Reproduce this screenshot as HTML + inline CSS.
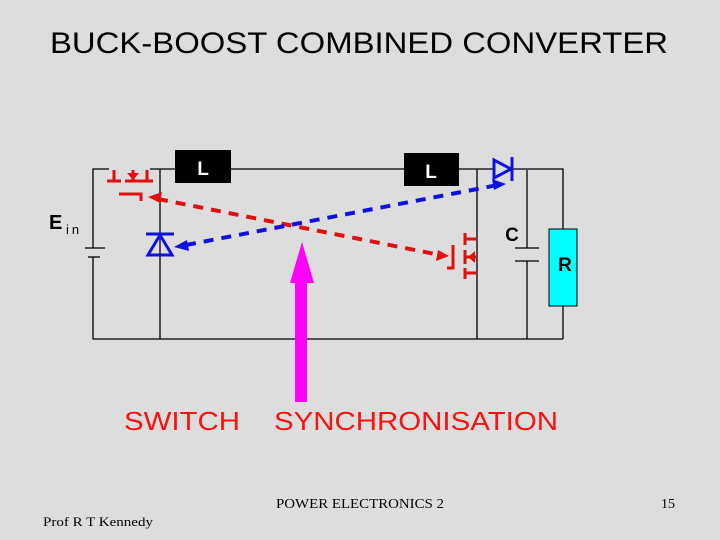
<!DOCTYPE html>
<html><head><meta charset="utf-8"><style>
html,body{margin:0;padding:0;background:#dddddd;width:720px;height:540px;overflow:hidden}
</style></head><body>
<svg width="720" height="540" xmlns="http://www.w3.org/2000/svg" style="position:absolute;left:0;top:0">
<rect width="720" height="540" fill="#dddddd"/>
<text x="50" y="53" textLength="618" lengthAdjust="spacingAndGlyphs" font-family="Liberation Sans, sans-serif" font-size="30" fill="#000">BUCK-BOOST COMBINED  CONVERTER</text>
<g stroke="#000" stroke-width="1.3" fill="none">
<polyline points="93,248 93,169 109,169"/>
<line x1="150" y1="169" x2="404" y2="169"/>
<line x1="459" y1="169" x2="494" y2="169"/>
<polyline points="511,169 563,169 563,229"/>
<line x1="563" y1="306" x2="563" y2="339"/>
<polyline points="93,257 93,339 563,339"/>
<line x1="160" y1="169" x2="160" y2="339"/>
<line x1="477" y1="169" x2="477" y2="339"/>
<line x1="527" y1="170" x2="527" y2="248"/>
<line x1="527" y1="261" x2="527" y2="339"/>
<line x1="85" y1="248" x2="105" y2="248"/>
<line x1="88" y1="257" x2="100" y2="257"/>
<line x1="515" y1="248" x2="539" y2="248"/>
<line x1="515" y1="261" x2="539" y2="261"/>
</g>
<rect x="175" y="150" width="56" height="33" fill="#000"/>
<text x="203" y="175" text-anchor="middle" font-family="Liberation Sans, sans-serif" font-weight="bold" font-size="19" fill="#fff">L</text>
<rect x="404" y="153" width="55" height="33" fill="#000"/>
<text x="431" y="178" text-anchor="middle" font-family="Liberation Sans, sans-serif" font-weight="bold" font-size="19" fill="#fff">L</text>
<rect x="549" y="229" width="28" height="77" fill="#00ffff" stroke="#000" stroke-width="1"/>
<text x="565" y="271" text-anchor="middle" font-family="Liberation Sans, sans-serif" font-weight="bold" font-size="19" fill="#000">R</text>
<text x="512" y="241" text-anchor="middle" font-family="Liberation Sans, sans-serif" font-weight="bold" font-size="19" fill="#000">C</text>
<text x="49" y="229" font-family="Liberation Sans, sans-serif" font-weight="bold" font-size="20" fill="#000">E</text>
<text x="66" y="234" font-family="Liberation Sans, sans-serif" font-size="13" letter-spacing="3" fill="#000">in</text>
<g stroke="#e01010" stroke-width="3" fill="none">
<line x1="107" y1="181" x2="121" y2="181"/><line x1="114" y1="170" x2="114" y2="181"/>
<line x1="125" y1="181" x2="141" y2="181"/><line x1="133" y1="170" x2="133" y2="181"/>
<line x1="141" y1="181" x2="153" y2="181"/><line x1="147" y1="170" x2="147" y2="181"/>
<polyline points="119,194 141,194 141,201"/>
</g>
<polygon points="127,173 139,173 133,180" fill="#e01010"/>
<g stroke="#e01010" stroke-width="3" fill="none">
<line x1="465" y1="233" x2="465" y2="245"/><line x1="465" y1="239" x2="476" y2="239"/>
<line x1="465" y1="250" x2="465" y2="264"/><line x1="465" y1="257" x2="476" y2="257"/>
<line x1="465" y1="268" x2="465" y2="279"/><line x1="465" y1="273" x2="476" y2="273"/>
<polyline points="453,245 453,268 447,268"/>
</g>
<polygon points="468,257 475,251 475,263" fill="#e01010"/>
<g stroke="#1010e0" stroke-width="3" fill="none">
<line x1="146" y1="234" x2="174" y2="234"/>
<polygon points="160,235 148,255 172,255"/>
<line x1="512" y1="157" x2="512" y2="181"/>
<polygon points="511,169 494,160 494,178"/>
</g>
<line x1="158" y1="199" x2="440" y2="255" stroke="#e01010" stroke-width="4" stroke-dasharray="10,8"/>
<polygon points="148,197 162,192 160,203" fill="#e01010"/>
<polygon points="449,256 436,261 438,250" fill="#e01010"/>
<line x1="186" y1="245" x2="498" y2="185" stroke="#1010e0" stroke-width="4" stroke-dasharray="10,8"/>
<polygon points="174,247 187,240 189,251" fill="#1010e0"/>
<polygon points="506,184 494,190 492,179" fill="#1010e0"/>
<rect x="295" y="280" width="12" height="122" fill="#ff00ff"/>
<polygon points="302,242 290,283 314,283" fill="#ff00ff"/>
<text x="124" y="430" textLength="116" lengthAdjust="spacingAndGlyphs" font-family="Liberation Sans, sans-serif" font-size="26" fill="#ff1010">SWITCH</text>
<text x="274" y="430" textLength="284" lengthAdjust="spacingAndGlyphs" font-family="Liberation Sans, sans-serif" font-size="26" fill="#ff1010">SYNCHRONISATION</text>
<text x="276" y="508" textLength="168" lengthAdjust="spacingAndGlyphs" font-family="Liberation Serif, serif" font-size="14" fill="#000">POWER ELECTRONICS 2</text>
<text x="661" y="508" font-family="Liberation Serif, serif" font-size="14" fill="#000">15</text>
<text x="43" y="526" textLength="110" lengthAdjust="spacingAndGlyphs" font-family="Liberation Serif, serif" font-size="13" fill="#000">Prof R T Kennedy</text>
</svg>
</body></html>
